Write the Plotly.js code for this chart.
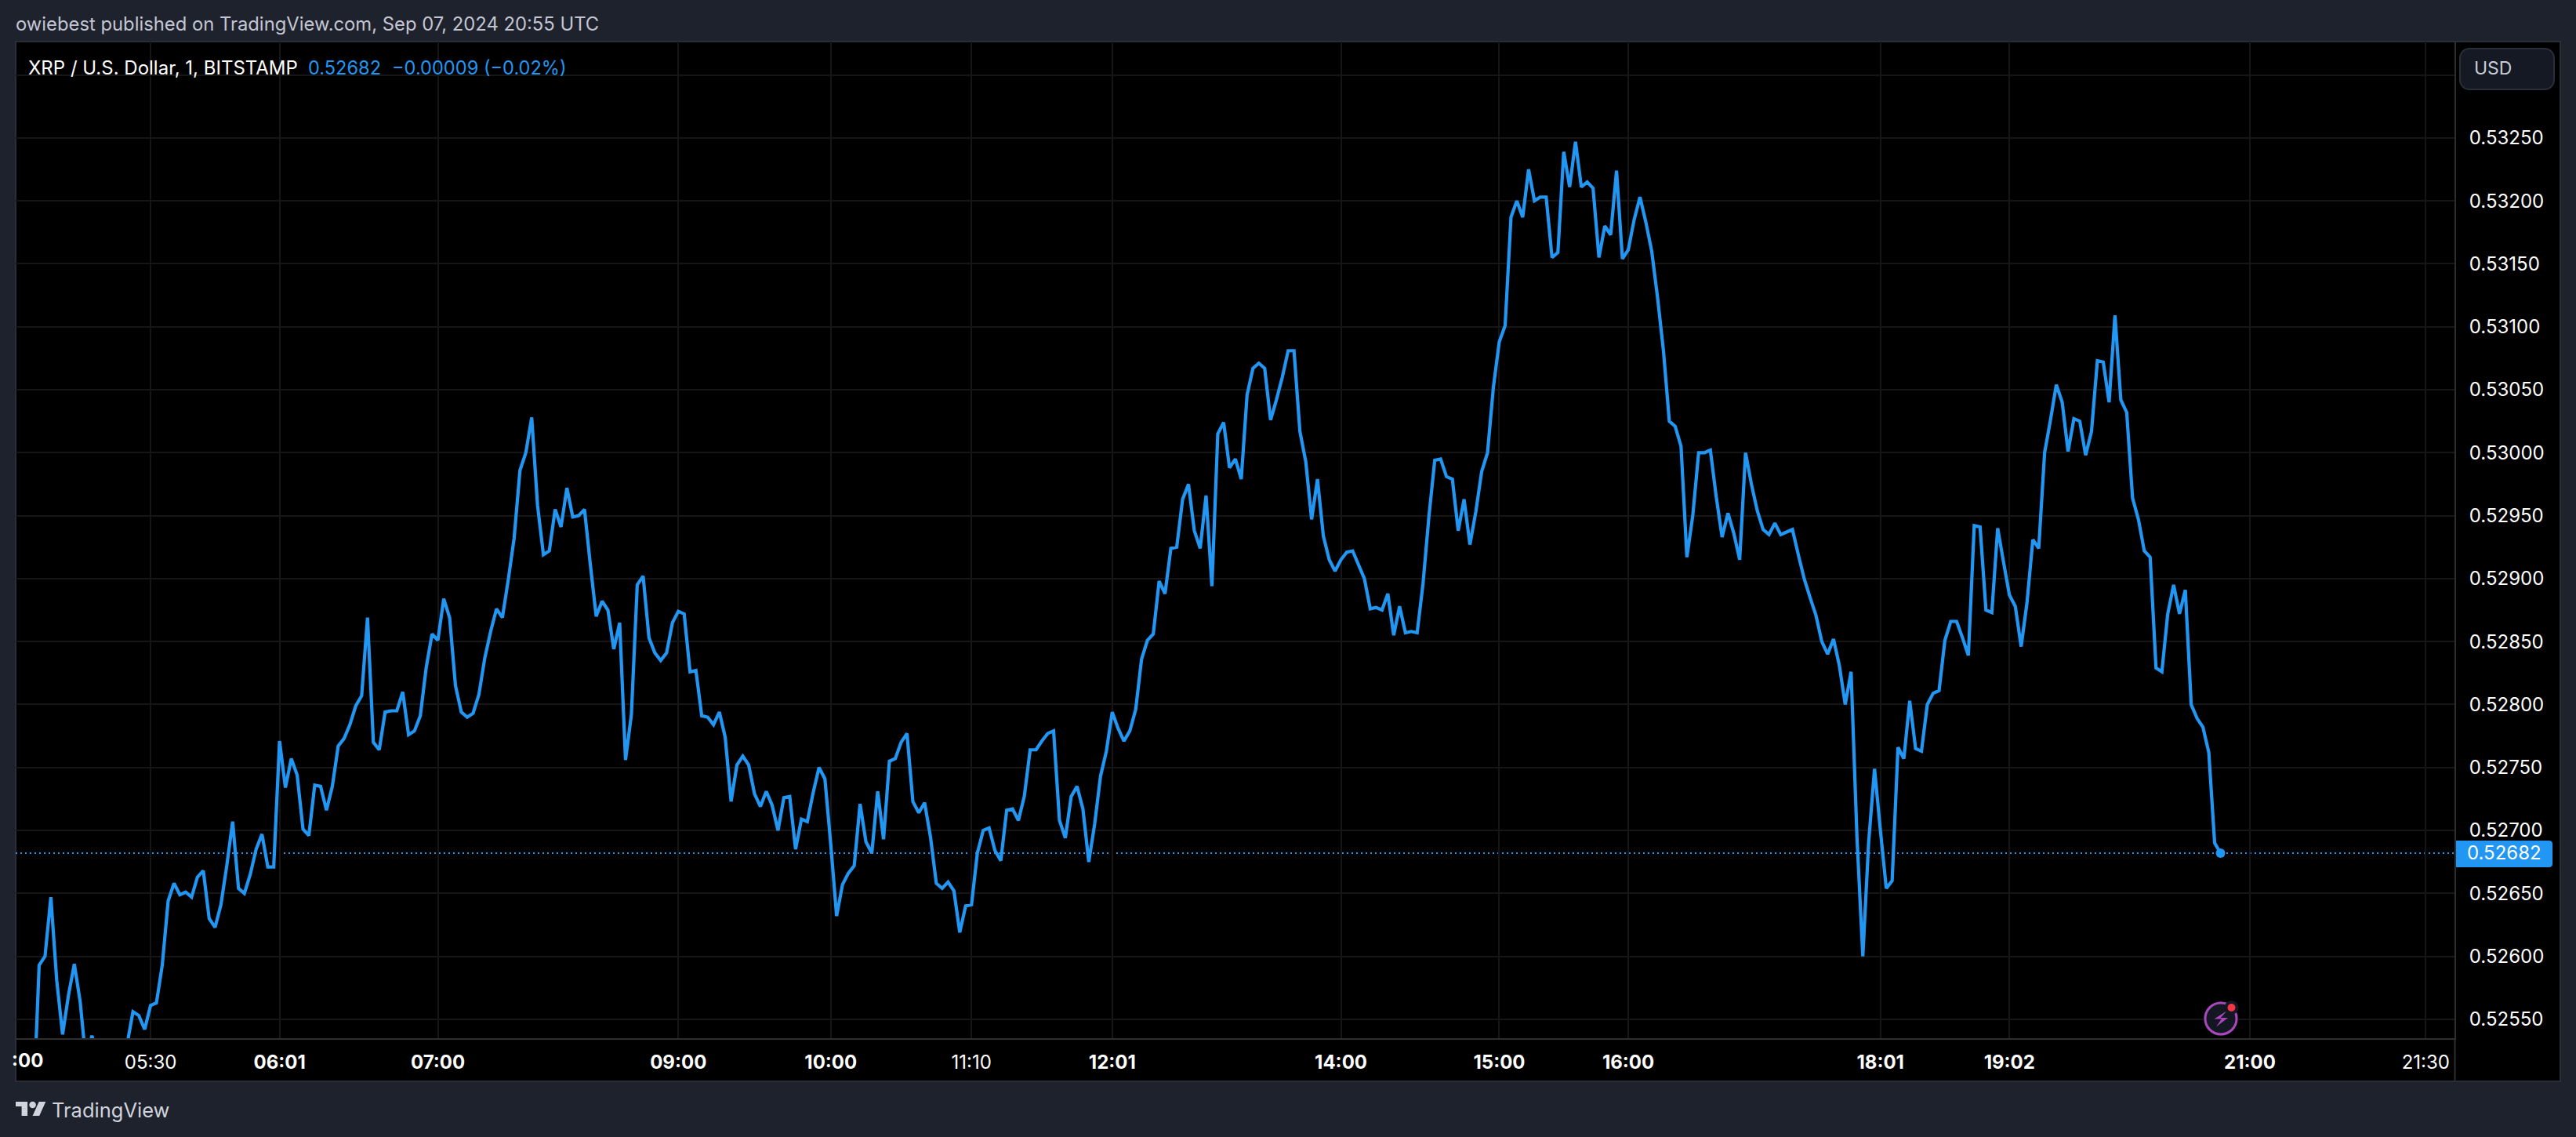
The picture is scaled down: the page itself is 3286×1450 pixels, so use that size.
<!DOCTYPE html>
<html>
<head>
<meta charset="utf-8">
<script src="https://cdn.plot.ly/plotly-3.0.1.min.js"></script>
<style>html,body{margin:0;padding:0;background:#1e222d}#chart{width:3286px;height:1450px}</style>
</head>
<body>
<div id="chart"></div>
<script>
// Close prices, one per bar, first bar on the axis is bar 3
const firstBar = 3;
const pricesMorning = [
0.52476,0.52593,0.52600,0.52647,0.52581,0.52538,0.52569,0.52594,0.52564,0.52516,
0.52537,0.52520,0.52510,0.52505,0.52510,0.52518,0.52530,0.52556,0.52553,0.52542,
0.52561,0.52563,0.52593,0.52644,0.52658,0.52649,0.52651,0.52647,0.52663,0.52668,
0.52630,0.52623,0.52641,0.52672,0.52707,0.52654,0.52650,0.52665,0.52685,0.52697,
0.52671,0.52671,0.52771,0.52734,0.52757,0.52744,0.52701,0.52696,0.52736,0.52735,
0.52716,0.52735,0.52767,0.52773,0.52784,0.52799,0.52807,0.52869,0.52770,0.52764,
0.52794,0.52795,0.52795,0.52810,0.52776,0.52779,0.52791,0.52829,0.52856,0.52851,
0.52884,0.52869,0.52815,0.52794,0.52790,0.52793,0.52808,0.52837,0.52858,0.52876,
0.52869,0.52899,0.52932,0.52986,0.53000,0.53028,0.52958,0.52919,0.52922,0.52955,
0.52941,0.52972,0.52949,0.52950,0.52955,0.52911,0.52870,0.52882,0.52875,0.52844,
0.52865,0.52756];
const pricesMidday = [
0.52792,0.52895,0.52902,0.52853,0.52841,0.52835,0.52841,0.52865,0.52874,0.52872,
0.52826,0.52827,0.52791,0.52790,0.52784,0.52794,0.52774,0.52723,0.52752,0.52759,
0.52752,0.52729,0.52719,0.52731,0.52720,0.52700,0.52726,0.52727,0.52685,0.52709,
0.52707,0.52730,0.52750,0.52741,0.52689,0.52632,0.52657,0.52666,0.52672,0.52721,
0.52691,0.52682,0.52731,0.52693,0.52755,0.52757,0.52770,0.52777,0.52723,0.52714,
0.52722,0.52695,0.52658,0.52654,0.52659,0.52652,0.52619,0.52640,0.52641,0.52682,
0.52700,0.52702,0.52684,0.52676,0.52716,0.52717,0.52708,0.52727,0.52764,0.52764,
0.52771,0.52777,0.52779,0.52708,0.52694,0.52727,0.52735,0.52717,0.52675,0.52705,
0.52743,0.52763,0.52794,0.52781,0.52771,0.52779,0.52796,0.52836,0.52851,0.52856,
0.52898,0.52888,0.52924,0.52925,0.52963,0.52975,0.52938,0.52924,0.52966,0.52894];
const pricesAfternoon = [
0.53015,0.53024,0.52988,0.52995,0.52979,0.53046,0.53067,0.53071,0.53067,0.53026,
0.53042,0.53060,0.53081,0.53081,0.53017,0.52993,0.52947,0.52979,0.52934,0.52915,
0.52906,0.52915,0.52921,0.52922,0.52911,0.52900,0.52876,0.52877,0.52875,0.52888,
0.52855,0.52878,0.52857,0.52858,0.52857,0.52896,0.52949,0.52994,0.52995,0.52981,
0.52979,0.52938,0.52963,0.52927,0.52953,0.52985,0.53000,0.53052,0.53088,0.53101,
0.53187,0.53200,0.53187,0.53225,0.53200,0.53203,0.53203,0.53155,0.53159,0.53239,
0.53211,0.53247,0.53211,0.53215,0.53210,0.53155,0.53180,0.53173,0.53224,0.53154,
0.53161,0.53185,0.53203,0.53183,0.53160,0.53123,0.53081,0.53025,0.53021,0.53005,
0.52917,0.52950,0.53000,0.53000,0.53002];
const pricesEvening = [
0.52965,0.52933,0.52952,0.52936,0.52915,0.53000,0.52975,0.52954,0.52939,0.52935,
0.52944,0.52935,0.52937,0.52939,0.52919,0.52900,0.52885,0.52871,0.52850,0.52840,
0.52852,0.52831,0.52800,0.52826,0.52695,0.52600,0.52691,0.52749,0.52700,0.52654,
0.52660,0.52766,0.52757,0.52803,0.52765,0.52763,0.52800,0.52809,0.52811,0.52851,
0.52866,0.52866,0.52853,0.52839,0.52942,0.52941,0.52875,0.52873,0.52940,0.52913,
0.52887,0.52878,0.52846,0.52881,0.52931,0.52924,0.53000,0.53026,0.53054,0.53040,
0.53001,0.53027,0.53025,0.52998,0.53017,0.53073,0.53072,0.53040,0.53109,0.53042,
0.53032,0.52964,0.52947,0.52922,0.52917,0.52829,0.52826,0.52872,0.52895,0.52872,
0.52891,0.52800,0.52789,0.52782,0.52762,0.52690,0.52682];
const prices = pricesMorning.concat(pricesMidday, pricesAfternoon, pricesEvening);
const barIndex = prices.map((_, i) => firstBar + i);
const lastPrice = prices[prices.length - 1];
const lastBar = barIndex[barIndex.length - 1];

// Time axis: bar position and label of each tick
const timeTickBars = [23, 45, 72, 113, 139, 163, 187, 226, 253, 275, 318, 340, 381, 411];
const timeTickLabels = ['05:30', '<b>06:01</b>', '<b>07:00</b>', '<b>09:00</b>', '<b>10:00</b>', '11:10', '<b>12:01</b>',
  '<b>14:00</b>', '<b>15:00</b>', '<b>16:00</b>', '<b>18:01</b>', '<b>19:02</b>', '<b>21:00</b>', '21:30'];
const priceTicks = [0.5255, 0.526, 0.5265, 0.527, 0.5275, 0.528, 0.5285, 0.529, 0.5295, 0.53, 0.5305, 0.531, 0.5315, 0.532, 0.5325, 0.533];
const priceTickLabels = ['0.52550', '0.52600', '0.52650', '0.52700', '0.52750', '0.52800', '0.52850', '0.52900', '0.52950',
  '0.53000', '0.53050', '0.53100', '0.53150', '0.53200', '0.53250', ' '];

const blue = '#2196f3', FONT = 'Inter, sans-serif';
const L = 20, R = 3131, T = 53, B = 1324;
const px = x => (x - L) / (R - L);
const py = y => (B - y) / (B - T);
const pathOf = pts => 'M' + pts.map(p => px(p[0]).toFixed(6) + ',' + py(p[1]).toFixed(6)).join('L') + 'Z';
const paperRect = (x0, y0, x1, y1, o) => Object.assign({ type: 'rect', xref: 'paper', yref: 'paper', x0: px(x0), x1: px(x1), y0: py(y1), y1: py(y0), layer: 'below', line: { width: 0 } }, o);
const paperCircle = (cx, cy, r, o) => Object.assign({ type: 'circle', xref: 'paper', yref: 'paper', x0: px(cx - r), x1: px(cx + r), y0: py(cy + r), y1: py(cy - r), layer: 'above', line: { width: 0 } }, o);
const paperPath = (d, o) => Object.assign({ type: 'path', xref: 'paper', yref: 'paper', path: d, layer: 'above', line: { width: 0 } }, o);
function roundRect(x0, y0, x1, y1, rl, rr) {
  const pts = [], arc = (cx, cy, r, a0) => { for (let k = 0; k <= 6; k++) { const a = a0 + k * Math.PI / 12; pts.push([cx + r * Math.cos(a), cy + r * Math.sin(a)]); } };
  arc(x1 - rr, y0 + rr, rr, -Math.PI / 2); arc(x1 - rr, y1 - rr, rr, 0); arc(x0 + rl, y1 - rl, rl, Math.PI / 2); arc(x0 + rl, y0 + rl, rl, Math.PI);
  return pathOf(pts);
}
const note = (text, x, y, size, color, extra) => Object.assign({ text, xref: 'paper', yref: 'paper', x: px(x), y: py(y), xanchor: 'left', yanchor: 'middle', showarrow: false, font: { family: FONT, size, color }, borderpad: 0, borderwidth: 0 }, extra);

const shapes = [
  paperRect(20, 53, 3266, 1379, { fillcolor: '#000000', line: { color: '#2a2e39', width: 2 } }),
  paperRect(3131, 1324, 3132, 1379, { fillcolor: '#2f2f2f', line: { color: '#2f2f2f', width: 1 } }),
  { type: 'line', xref: 'x', yref: 'y', x0: 0, x1: 415.9, y0: lastPrice, y1: lastPrice, layer: 'below', line: { color: blue, width: 2, dash: '2px,4px' } },
  paperPath(roundRect(3138, 62, 3258, 114, 12, 12), { fillcolor: '#151924', line: { color: '#2a2e39', width: 2 } }),
  paperPath(roundRect(3133, 1072, 3256, 1106, 0.5, 4), { fillcolor: blue }),
  paperCircle(2833, 1299, 22, { fillcolor: '#131722' }),
  paperCircle(2833, 1299, 20, { fillcolor: '#131722', line: { color: '#ab47bc', width: 3 } }),
  paperPath(pathOf([[2840.5, 1289.3], [2824.4, 1299.5], [2833.8, 1299.5], [2827, 1309.5], [2842, 1298], [2832.7, 1298]]), { fillcolor: '#ab47bc' }),
  paperCircle(2846.5, 1285, 9, { fillcolor: '#131722' }),
  paperCircle(2846.5, 1285, 5, { fillcolor: '#f23645' }),
  // TradingView mark
  paperPath(pathOf([[35.1, 1423], [27.6, 1423], [27.6, 1411.1], [20, 1411.1], [20, 1405], [35.1, 1405]]), { fillcolor: '#d1d4dc' }),
  paperPath(pathOf([[50.2, 1423], [41.6, 1423], [49.7, 1405], [58.3, 1405]]), { fillcolor: '#d1d4dc' }),
  paperCircle(41.6, 1409, 4.3, { fillcolor: '#d1d4dc' })
];

const annotations = [
  note('owiebest published on TradingView.com, Sep 07, 2024 20:55 UTC', 20, 31, 23.8, '#c3c6d2'),
  note('XRP / U.S. Dollar, 1, BITSTAMP', 36, 86, 24, '#ffffff'),
  note(lastPrice.toFixed(5), 393, 86, 23.6, blue),
  note('\u22120.00009 (\u22120.02%)', 500, 86, 23.6, blue),
  note('USD', 3156, 87, 23, '#c9ccd6'),
  note(lastPrice.toFixed(5), 3147, 0, 24, '#ffffff', { yref: 'y', y: lastPrice }),
  note('<b>:00</b>', 55, 1353, 24, '#ffffff', { xanchor: 'right' }),
  note('TradingView', 66, 1416, 25.5, '#d1d4dc')
];

const traces = [
  { type: 'scatter', mode: 'lines', x: barIndex, y: prices, line: { color: blue, width: 4.2, shape: 'linear', simplify: false }, hoverinfo: 'skip', showlegend: false },
  { type: 'scatter', mode: 'markers', x: [lastBar], y: [lastPrice], marker: { color: blue, size: 12, line: { width: 0 } }, hoverinfo: 'skip', showlegend: false }
];

const layout = {
  width: 3286, height: 1450,
  margin: { l: L, r: 3286 - R, t: T, b: 1450 - B, pad: 0, autoexpand: false },
  paper_bgcolor: '#1e222d', plot_bgcolor: '#000000',
  showlegend: false,
  xaxis: {
    type: 'linear', range: [0, 415.9], autorange: false, fixedrange: true,
    tickmode: 'array', tickvals: timeTickBars, ticktext: timeTickLabels, tickangle: 0,
    ticks: '', ticklabelstandoff: 8, tickfont: { family: FONT, size: 24, color: '#ffffff' },
    showgrid: true, gridcolor: '#161616', gridwidth: 2, zeroline: false,
    showline: true, linecolor: '#2f2f2f', linewidth: 2
  },
  yaxis: {
    type: 'linear', side: 'right', range: [0.52535, 0.533265], autorange: false, fixedrange: true,
    tickmode: 'array', tickvals: priceTicks, ticktext: priceTickLabels,
    ticks: '', ticklabelstandoff: 12, tickfont: { family: FONT, size: 24, color: '#ffffff' },
    showgrid: true, gridcolor: '#161616', gridwidth: 2, zeroline: false,
    showline: true, linecolor: '#2f2f2f', linewidth: 2
  },
  shapes, annotations
};
Plotly.newPlot('chart', traces, layout, { displayModeBar: false, responsive: false, staticPlot: true });
</script>
</body>
</html>
